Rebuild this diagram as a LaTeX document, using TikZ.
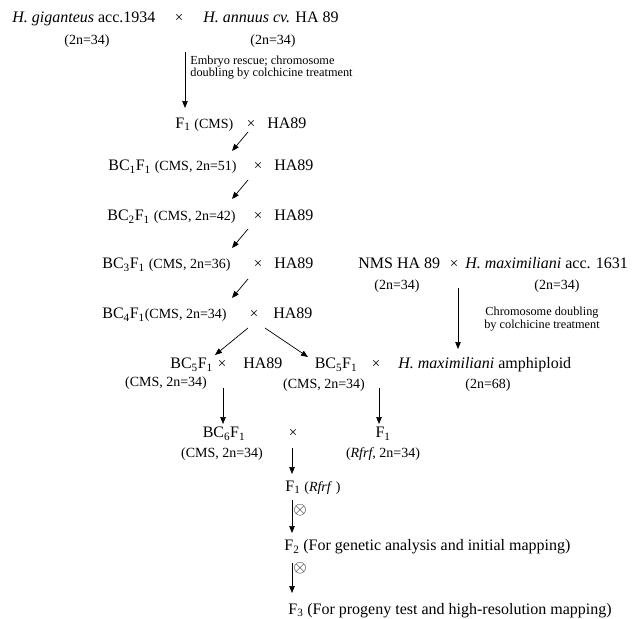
\documentclass[tikz,border=0pt]{standalone}
\usepackage{fontspec}
\setmainfont{Liberation Serif}
\usetikzlibrary{arrows.meta}
\newcommand{\gen}[1]{{\fontsize{14}{16}\selectfont #1}}
\begin{document}
\begin{tikzpicture}[x=1pt, y=-1pt, line width=0.7pt]
	\tikzstyle{txt}   = [inner sep=0pt, font=\fontsize{16}{18}\selectfont]
	\tikzstyle{sm}    = [inner sep=0pt, font=\fontsize{14}{16}\selectfont]
	\tikzstyle{note}  = [inner sep=0pt, font=\fontsize{12.3}{10.5}\selectfont]
	\tikzstyle{cross} = [inner sep=0pt, font=\fontsize{15}{16}\selectfont]
	\tikzstyle{self}  = [inner sep=0pt, font=\fontsize{18}{18}\selectfont]
	\tikzstyle{arr}   = [-{Triangle[length=7pt, width=5.5pt]}]
	\useasboundingbox (0,0) rectangle (639,618);

	% first cross
	\node[txt, anchor=base west] (gig) at (12,23) {\textit{H. giganteus} acc.1934};
	\node[cross, anchor=base] (x0) at (179,23) {\texttimes};
	\node[txt, anchor=base west] (ann) at (203,23) {\textit{H. annuus cv.} HA 89};
	\node[sm, anchor=base] (gign) at (87,45) {(2n=34)};
	\node[sm, anchor=base] (annn) at (273,45) {(2n=34)};

	\coordinate (e0) at (185,52);
	\coordinate (e1) at (185,108);
	\draw[arr] (e0) -- (e1);
	\node[note, anchor=west, align=left] (rescue) at (190,67.5) {Embryo rescue; chromosome\\doubling by colchicine treatment};

	% backcrosses to HA89
	\node[txt, anchor=base west] (f1) at (175,128) {F\textsubscript{1} \gen{(CMS)}};
	\node[cross, anchor=base] (x1) at (251,128) {\texttimes};
	\node[txt, anchor=base west] (ha1) at (267,128) {HA89};

	\foreach \i/\x/\y/\n in {1/108/170.5/51, 2/107/220.5/42, 3/102/268.5/36}
	{
		\node[txt, anchor=base west] (bc\i) at (\x,\y) {BC\textsubscript{\i}F\textsubscript{1} \gen{(CMS, 2n=\n)}};
		\node[cross, anchor=base] (xb\i) at (258,\y) {\texttimes};
		\node[txt, anchor=base west] (hab\i) at (274,\y) {HA89};
	}
	\node[txt, anchor=base west] (bc4) at (102,318.5) {BC\textsubscript{4}F\textsubscript{1}\gen{(CMS, 2n=34)}};
	\node[cross, anchor=base] (xb4) at (254,318.5) {\texttimes};
	\node[txt, anchor=base west] (hab4) at (273,318.5) {HA89};

	\foreach \i/\y in {1/132, 2/180, 3/229, 4/279}
	{
		\coordinate (s\i) at (248,\y);
		\coordinate (t\i) at (232,\y+19);
		\draw[arr] (s\i) -- (t\i);
	}

	% split after BC4F1
	\coordinate (sl) at (248,328);
	\coordinate (tl) at (215,355);
	\coordinate (sr) at (265,328);
	\coordinate (tr) at (308,357);
	\draw[arr] (sl) -- (tl);
	\draw[arr] (sr) -- (tr);

	% restorer line
	\node[txt, anchor=base west] (nms) at (358,268.5) {NMS HA 89};
	\node[cross, anchor=base] (xn) at (454,268.5) {\texttimes};
	\node[txt, anchor=base west] (max) at (465,268.5) {\textit{H. maximiliani} acc. 1631};
	\node[sm, anchor=base] (nmsn) at (397,289.5) {(2n=34)};
	\node[sm, anchor=base] (maxn) at (557,289.5) {(2n=34)};
	\coordinate (m0) at (458,288);
	\coordinate (m1) at (458,349);
	\draw[arr] (m0) -- (m1);
	\node[note, align=center] (dbl) at (542,319) {Chromosome doubling\\by colchicine treatment};

	% BC5F1 crosses
	\node[txt, anchor=base west] (bc5a) at (170,368.5) {BC\textsubscript{5}F\textsubscript{1}};
	\node[cross, anchor=base] (x5a) at (222,368.5) {\texttimes};
	\node[txt, anchor=base west] (ha5) at (243,368.5) {HA89};
	\node[sm, anchor=base] (bc5an) at (166,386) {(CMS, 2n=34)};
	\node[txt, anchor=base] (bc5b) at (336,368.5) {BC\textsubscript{5}F\textsubscript{1}};
	\node[cross, anchor=base] (x5b) at (376,368.5) {\texttimes};
	\node[txt, anchor=base west] (amph) at (398,368.5) {\textit{H. maximiliani} amphiploid};
	\node[sm, anchor=base] (bc5bn) at (324,388) {(CMS, 2n=34)};
	\node[sm, anchor=base] (amphn) at (488,388) {(2n=68)};

	\foreach \n/\x in {l/223, r/379}
	{
		\coordinate (u\n) at (\x,388);
		\coordinate (v\n) at (\x,424);
		\draw[arr] (u\n) -- (v\n);
	}

	% final cross and selfing
	\node[txt, anchor=base] (bc6) at (224,437.5) {BC\textsubscript{6}F\textsubscript{1}};
	\node[cross, anchor=base] (x6) at (293,437.5) {\texttimes};
	\node[txt, anchor=base] (f1r) at (383,437.5) {F\textsubscript{1}};
	\node[sm, anchor=base] (bc6n) at (222,457) {(CMS, 2n=34)};
	\node[sm, anchor=base] (f1rn) at (383,457) {(\textit{Rfrf}, 2n=34)};

	\node[txt, anchor=base west] (hy) at (285,491) {F\textsubscript{1} \gen{(\textit{Rfrf} )}};
	\node[txt, anchor=base west] (f2) at (284,550.5) {F\textsubscript{2} (For genetic analysis and initial mapping)};
	\node[txt, anchor=base west] (f3) at (288,614) {F\textsubscript{3} (For progeny test and high-resolution mapping)};

	\foreach \i/\a/\b in {1/448/474, 2/500/533, 3/563/593}
	{
		\coordinate (p\i) at (292,\a);
		\coordinate (q\i) at (292,\b);
		\draw[arr] (p\i) -- (q\i);
	}
	\node[self] (self1) at (300,510) {$\otimes$};
	\node[self] (self2) at (300,568) {$\otimes$};
\end{tikzpicture}
\end{document}
